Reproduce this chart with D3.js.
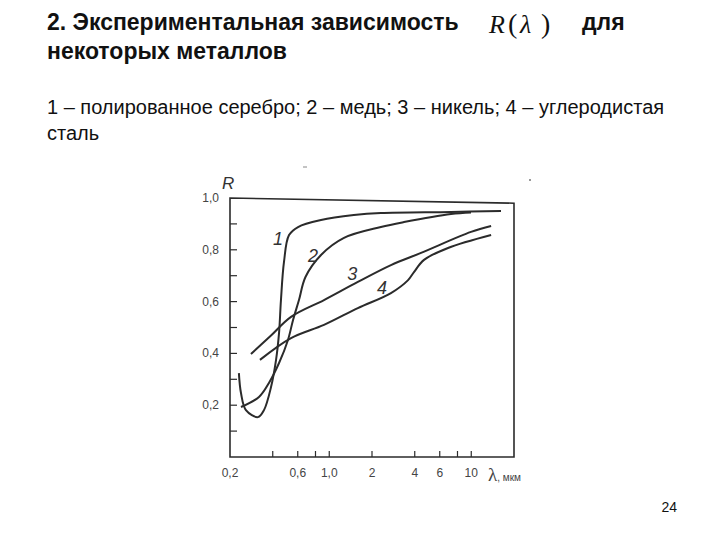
<!DOCTYPE html>
<html>
<head>
<meta charset="utf-8">
<script src="https://cdn.jsdelivr.net/npm/d3@7"></script>
<style>
  body { margin: 0; background: #fff; }
  text { font-family: "Liberation Sans", Arial, sans-serif; }
  text.serif, tspan.serif { font-family: "Liberation Serif", "Times New Roman", serif; }
</style>
</head>
<body>
<script>
// curves R(lambda), lambda in мкм
const silver = [[0.231,0.324],[0.239,0.247],[0.259,0.181],[0.315,0.154],[0.347,0.181],[0.389,0.270],
  [0.422,0.375],[0.443,0.479],[0.457,0.606],[0.480,0.753],[0.521,0.857],[0.603,0.888],[0.875,0.915],
  [1.49,0.934],[2.31,0.942],[7.2,0.946],[16.2,0.950]];
const copper = [[0.239,0.193],[0.32,0.232],[0.376,0.286],[0.443,0.363],[0.512,0.452],[0.556,0.529],
  [0.612,0.606],[0.68,0.695],[0.875,0.780],[1.27,0.846],[2.31,0.888],[3.36,0.907],[7.2,0.938],[9.96,0.944]];
const nickel = [[0.281,0.398],[0.389,0.469],[0.538,0.541],[0.918,0.606],[1.59,0.676],[2.72,0.741],
  [4.43,0.788],[9.96,0.869],[13.8,0.892]];
const steel = [[0.325,0.375],[0.538,0.459],[0.918,0.510],[1.59,0.575],[2.72,0.633],[3.59,0.683],
  [3.95,0.714],[4.65,0.761],[6.86,0.807],[13.8,0.857]];
const curves = [silver, copper, nickel, steel];
const curveLabels = [["1",0.436,0.818],["2",0.768,0.753],["3",1.45,0.683],["4",2.35,0.629]];

const xTicks = [0.4,0.6,0.8,1,2,4,6,8,10];
const xTickLabels = [0.2,0.6,1.0,2,4,6,10];
const yTicks = [0.1,0.2,0.3,0.4,0.5,0.6,0.7,0.8,0.9];
const yTickLabels = [0.2,0.4,0.6,0.8,1.0];

const svg = d3.select('body').append('svg')
  .attr('width', 720)
  .attr('height', 540);

// titles
svg.append('text').attr('x', 47).attr('y', 30)
  .attr('font-size', 23).attr('font-weight', 'bold').attr('fill', '#111')
  .text('2. Экспериментальная зависимость');
const rl = svg.append('g').attr('fill', '#111');
rl.append('text').attr('class', 'serif').attr('x', 489).attr('y', 33)
  .attr('font-size', 26).attr('font-style', 'italic').text('R');
rl.append('text').attr('class', 'serif').attr('x', 508).attr('y', 33)
  .attr('font-size', 28).text('(');
rl.append('text').attr('class', 'serif').attr('x', 520).attr('y', 33)
  .attr('font-size', 26).attr('font-style', 'italic').text('λ');
rl.append('text').attr('class', 'serif').attr('x', 541).attr('y', 33)
  .attr('font-size', 28).text(')');
svg.append('text').attr('x', 582).attr('y', 30)
  .attr('font-size', 23).attr('font-weight', 'bold').attr('fill', '#111')
  .text('для');
svg.append('text').attr('x', 47).attr('y', 59)
  .attr('font-size', 23).attr('font-weight', 'bold').attr('fill', '#111')
  .text('некоторых металлов');
svg.append('text').attr('x', 47).attr('y', 114)
  .attr('font-size', 20).attr('fill', '#111')
  .text('1 – полированное серебро; 2 – медь; 3 – никель; 4 – углеродистая');
svg.append('text').attr('x', 47).attr('y', 140)
  .attr('font-size', 20).attr('fill', '#111')
  .text('сталь');
svg.append('text').attr('x', 677).attr('y', 512)
  .attr('font-size', 14).attr('text-anchor', 'end').attr('fill', '#111')
  .text('24');

// scales
const x = d3.scaleLog().domain([0.2, 20]).range([230, 514]);
const y = d3.scaleLinear().domain([0, 1]).range([457, 198]);

const ink = '#2b2b2b';

// frame
svg.append('path')
  .attr('d', `M${x(0.2)},${y(1)}L${x(20)},${y(0.98)}L${x(20)},${y(0)}L${x(0.2)},${y(0)}Z`)
  .attr('fill', 'none').attr('stroke', ink).attr('stroke-width', 1.6);

// axes with inward ticks
const fmt = d => String(d).replace('.', ',');
svg.selectAll('.xt').data(xTicks).enter().append('line')
  .attr('x1', d => x(d)).attr('x2', d => x(d))
  .attr('y1', y(0)).attr('y2', y(0) - 6)
  .attr('stroke', ink).attr('stroke-width', 1.2);
svg.selectAll('.xl').data(xTickLabels).enter().append('text')
  .attr('x', d => x(d)).attr('y', 477)
  .attr('text-anchor', 'middle').attr('font-size', 12).attr('fill', '#444')
  .text(d => d === 1 ? '1,0' : fmt(d));
svg.selectAll('.yt').data(yTicks).enter().append('line')
  .attr('x1', x(0.2)).attr('x2', x(0.2) + 7)
  .attr('y1', d => y(d)).attr('y2', d => y(d))
  .attr('stroke', ink).attr('stroke-width', 1.2);
svg.selectAll('.yl').data(yTickLabels).enter().append('text')
  .attr('x', 219).attr('y', d => y(d) + 4)
  .attr('text-anchor', 'end').attr('font-size', 12).attr('fill', '#444')
  .text(d => d === 1 ? '1,0' : fmt(d));

// axis titles
svg.append('text').attr('x', 222).attr('y', 189)
  .attr('font-size', 17).attr('font-style', 'italic').attr('fill', '#333')
  .text('R');
const xt = svg.append('text').attr('x', 488).attr('y', 481).attr('fill', '#444');
xt.append('tspan').attr('class', 'serif').attr('font-size', 19).text('λ');
xt.append('tspan').attr('font-size', 10).text(', мкм');

// curves
const line = d3.line()
  .x(d => x(d[0]))
  .y(d => y(d[1]))
  .curve(d3.curveCatmullRom.alpha(0.5));
svg.selectAll('.curve').data(curves).enter().append('path')
  .attr('d', line)
  .attr('fill', 'none').attr('stroke', ink).attr('stroke-width', 2);

svg.selectAll('.cl').data(curveLabels).enter().append('text')
  .attr('x', d => x(d[1])).attr('y', d => y(d[2]))
  .attr('font-size', 18).attr('font-style', 'italic').attr('fill', '#333')
  .attr('text-anchor', 'middle')
  .text(d => d[0]);

// scan specks
svg.append('line').attr('x1', 303).attr('x2', 307).attr('y1', 167).attr('y2', 167)
  .attr('stroke', '#888').attr('stroke-width', 1);
svg.append('circle').attr('cx', 530).attr('cy', 180).attr('r', 1).attr('fill', '#777');
</script>
</body>
</html>
